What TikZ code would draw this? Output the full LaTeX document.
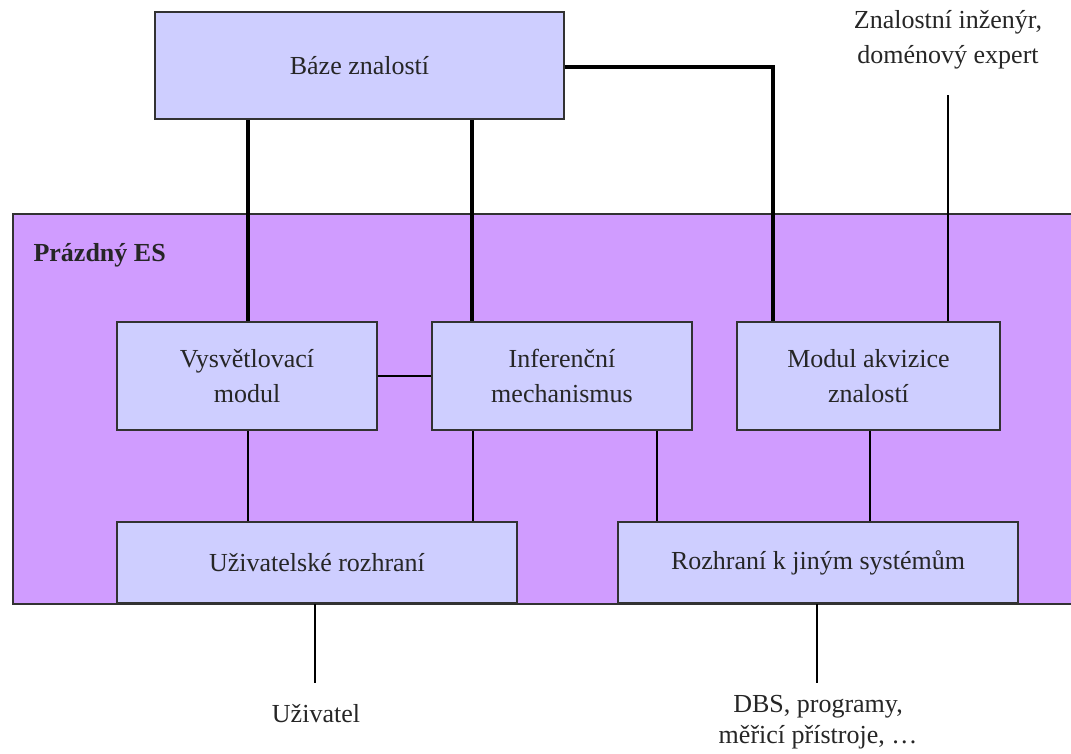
\documentclass[tikz,border=0pt]{standalone}
\usepackage{fontspec}
\setmainfont{Liberation Serif}
\definecolor{boxfill}{RGB}{206,206,255}
\definecolor{esfill}{RGB}{208,156,255}
\definecolor{edge}{RGB}{50,50,50}
\begin{document}
\begin{tikzpicture}[x=1pt,y=-1pt,
  every node/.style={font=\fontsize{26}{35}\selectfont, text=black!85},
  box/.style={draw=edge, line width=1.6pt, fill=boxfill, align=center, inner sep=0pt},
  thick link/.style={line width=4.5pt, black},
  thin link/.style={line width=2.4pt, black}]
\useasboundingbox (0,0) rectangle (1071,753);
\fill[white] (0,0) rectangle (1071,753);
% Prazdny ES container
\node[draw=edge, line width=1.6pt, fill=esfill, minimum width=1080pt, minimum height=390pt, inner sep=0pt, anchor=north west] (es) at (12,213) {};
\node[anchor=west, font=\fontsize{26}{35}\selectfont\bfseries] (estitle) at (30,255) {Prázdný ES};
% boxes
\node[box, minimum width=409pt, minimum height=107pt] (baze) at (359.5,65.5) {Báze znalostí};
\node[box, minimum width=260pt, minimum height=108pt] (vysv) at (247,376) {Vysvětlovací\\modul};
\node[box, minimum width=260pt, minimum height=108pt] (infer) at (562,376) {Inferenční\\mechanismus};
\node[box, minimum width=263pt, minimum height=108pt] (modul) at (868.5,376) {Modul akvizice\\znalostí};
\node[box, minimum width=400pt, minimum height=81pt] (uziv) at (317,562.5) {Uživatelské rozhraní};
\node[box, minimum width=400pt, minimum height=81pt] (rozh) at (818,562.5) {Rozhraní k jiným systémům};
% outside labels
\node[align=center, anchor=north] (expert) at (948,7) {Znalostní inženýr,\\doménový expert};
\node[anchor=base] (uzivatel) at (316,722) {Uživatel};
\node[align=center, anchor=north, font=\fontsize{26}{31}\selectfont] (dbs) at (818,692) {DBS, programy,\\měřicí přístroje, …};
\coordinate (expertend) at (948,95);
\coordinate (uzivend) at (315,683);
\coordinate (dbsend) at (817,683);
\coordinate (corner) at (773,67);
% thick connectors
\draw[thick link] (baze.south -| 248,0) -- (vysv.north -| 248,0);
\draw[thick link] (baze.south -| 472,0) -- (infer.north -| 472,0);
\draw[thick link] (baze.east |- corner) -- (corner) -- (modul.north -| corner);
% thin connectors
\draw[thin link] (expertend) -- (modul.north -| expertend);
\draw[thin link] (vysv.east) -- (infer.west);
\draw[thin link] (vysv.south -| 248,0) -- (uziv.north -| 248,0);
\draw[thin link] (infer.south -| 473,0) -- (uziv.north -| 473,0);
\draw[thin link] (infer.south -| 657,0) -- (rozh.north -| 657,0);
\draw[thin link] (modul.south -| 870,0) -- (rozh.north -| 870,0);
\draw[thin link] (uziv.south -| uzivend) -- (uzivend);
\draw[thin link] (rozh.south -| dbsend) -- (dbsend);
\end{tikzpicture}
\end{document}
